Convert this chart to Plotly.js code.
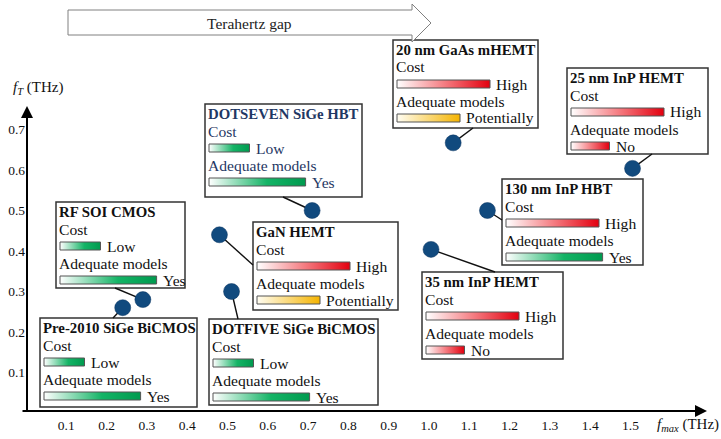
<!DOCTYPE html>
<html>
<head>
<meta charset="utf-8">
<script src="https://cdn.plot.ly/plotly-3.0.1.min.js"></script>
<style>html,body{margin:0;padding:0;background:#fff}#plot{width:721px;height:439px}</style>
</head>
<body>
<div id="plot"></div>
<script>
// devices
var devices = ['Pre-2010 SiGe BiCMOS', 'RF SOI CMOS', 'GaN HEMT', 'DOTFIVE SiGe BiCMOS', 'DOTSEVEN SiGe HBT',
  '20 nm GaAs mHEMT', '35 nm InP HEMT', '130 nm InP HBT', '25 nm InP HEMT'];
var fmax = [0.24, 0.29, 0.48, 0.51, 0.71, 1.06, 1.005, 1.145, 1.505];
var fT = [0.26, 0.28, 0.44, 0.30, 0.50, 0.667, 0.404, 0.50, 0.604];
var cost = ['Low', 'Low', 'High', 'Low', 'Low', 'High', 'High', 'High', 'High'];
var models = ['Yes', 'Yes', 'Potentially', 'Yes', 'Yes', 'Potentially', 'No', 'Yes', 'No'];
var xTicks = [0.1, 0.2, 0.3, 0.4, 0.5, 0.6, 0.7, 0.8, 0.9, 1.0, 1.1, 1.2, 1.3, 1.4, 1.5];
var yTicks = [0.1, 0.2, 0.3, 0.4, 0.5, 0.6, 0.7];

// picture frame (px); margins are 0 so paper = page
var W = 721, H = 439;
var X0 = 26, Y0 = 413, SX = 403, SY = 405;
function dx(px) { return (px - X0) / SX; }
function dy(py) { return (Y0 - py) / SY; }
function px(x) { return x / W; }
function py(y) { return 1 - y / H; }

var SERIF = 'Liberation Serif';
var NAVY = '#114a7e';

// label boxes [left, top, right, bottom] and where the leader line meets them, px
var boxes = [
  [40, 318, 197, 407], [56, 202, 185, 288], [253, 222, 398, 310], [209, 319, 378, 405],
  [205, 104, 362, 197], [393, 40, 538, 128], [422, 272, 563, 359], [502, 179, 643, 265], [567, 68, 708, 154]
];
var anchors = [
  [113, 318], [115, 288], [253, 265], [238, 319], [283, 197], [473, 128], [495, 272], [502, 220], [652, 154]
];

var barLen = {Low: 40.5, High: 93, Yes: 96.6, Potentially: 63, No: 38.5};
var GREEN = [[0, '#ffffff'], [0.6, '#14b466'], [1, '#009a4f']];
var RED = [[0, '#ffffff'], [0.5, '#f57f84'], [1, '#e3000f']];
var YELLOW = [[0, '#fffdf2'], [1, '#f5b400']];
var barScale = {Low: GREEN, Yes: GREEN, High: RED, No: RED, Potentially: YELLOW};

var data = [];
var shapes = [];
var annotations = [];

function gradBar(x, yc, level) {
  var l = dx(x), r = dx(x + barLen[level]), t = dy(yc - 4), b = dy(yc + 4);
  data.push({
    type: 'scatter', mode: 'lines',
    x: [l, r, r, l, l], y: [t, t, b, b, t],
    fill: 'toself', fillcolor: barScale[level][1][1],
    fillgradient: {type: 'horizontal', colorscale: barScale[level], start: l, stop: r},
    line: {color: '#555', width: 1}, hoverinfo: 'skip'
  });
  return x + barLen[level];
}

function txt(x, y, s, size, col, bold) {
  annotations.push({xref: 'paper', yref: 'paper', x: px(x), y: py(y), text: bold ? '<b>' + s + '</b>' : s,
    showarrow: false, xanchor: 'left', yanchor: 'middle', font: {family: SERIF, size: size, color: col}});
}

var BODY = 15.6, HEAD = 14.8;
for (var i = 0; i < devices.length; i++) {
  var bx = boxes[i], L = bx[0], T = bx[1];
  var col = devices[i].indexOf('DOTSEVEN') === 0 ? '#1f3864' : '#111';
  shapes.push({type: 'rect', xref: 'paper', yref: 'paper', layer: 'below',
    x0: px(bx[0]), y0: py(bx[1]), x1: px(bx[2]), y1: py(bx[3]),
    line: {color: '#333', width: 1.5}, fillcolor: '#fff'});
  txt(L + 1, T + 10, devices[i], HEAD, col, true);
  txt(L + 1, T + 27, 'Cost', BODY, col);
  var e1 = gradBar(L + 4, T + 44, cost[i]);
  txt(e1 + 4, T + 44, cost[i], BODY, col);
  txt(L + 1, T + 61.5, 'Adequate models', BODY, col);
  var e2 = gradBar(L + 4, T + 78, models[i]);
  txt(e2 + 4, T + 78, models[i], BODY, col);
}

// leader lines, one per device, then the points on top
for (var j = 0; j < devices.length; j++) {
  data.push({type: 'scatter', mode: 'lines',
    x: [fmax[j], dx(anchors[j][0])], y: [fT[j], dy(anchors[j][1])],
    line: {color: '#111', width: 1.4, simplify: false}, hoverinfo: 'skip'});
}
data.push({
  type: 'scatter', mode: 'markers', x: fmax, y: fT, text: devices,
  marker: {size: 16, color: NAVY, line: {color: '#0a3560', width: 0.5}},
  hoverinfo: 'text'
});

// Terahertz gap arrow
var gap = [[68, 10], [412, 10], [412, 4], [431, 23], [412, 42], [412, 35], [68, 35]];
shapes.push({type: 'path', xref: 'paper', yref: 'paper', layer: 'below',
  path: gap.map(function (p, k) { return (k ? 'L' : 'M') + px(p[0]) + ',' + py(p[1]); }).join(' ') + ' Z',
  line: {color: '#808080', width: 1}, fillcolor: '#fff'});
annotations.push({xref: 'paper', yref: 'paper', x: px(249), y: py(24), yanchor: 'middle', text: 'Terahertz gap',
  showarrow: false, font: {family: SERIF, size: 15.5, color: '#222'}});

// axis arrows
annotations.push({xref: 'paper', yref: 'paper', x: px(707), y: py(411), ax: -686, ay: 0,
  text: '', showarrow: true, arrowhead: 2, arrowsize: 1.2, arrowwidth: 2, arrowcolor: '#000', standoff: 0});
annotations.push({xref: 'paper', yref: 'paper', x: px(27), y: py(106), ax: 0, ay: 306,
  text: '', showarrow: true, arrowhead: 2, arrowsize: 1.2, arrowwidth: 2, arrowcolor: '#000', standoff: 0});
annotations.push({xref: 'paper', yref: 'paper', x: px(11), y: py(88), xanchor: 'left', yanchor: 'middle',
  text: '<i>f</i><sub><i>T</i></sub> (THz)', showarrow: false, font: {family: SERIF, size: 15, color: '#111'}});
annotations.push({xref: 'paper', yref: 'paper', x: px(655), y: py(425), xanchor: 'left', yanchor: 'middle',
  text: '<i>f</i><sub><i>max</i></sub> (THz)', showarrow: false, font: {family: SERIF, size: 15, color: '#111'}});

var layout = {
  width: W, height: H, margin: {l: 0, r: 0, t: 0, b: 0},
  paper_bgcolor: '#fff', plot_bgcolor: 'rgba(0,0,0,0)', showlegend: false,
  font: {family: SERIF, size: 15.5, color: '#111'},
  xaxis: {domain: [X0 / W, 1], range: [0, (W - X0) / SX], tickvals: xTicks, tickformat: '.1f',
    ticks: '', showgrid: false, zeroline: false, showline: false, ticklabelstandoff: 2,
    tickfont: {family: SERIF, size: 13.5, color: '#111'}, fixedrange: true},
  yaxis: {domain: [(H - Y0) / H, 1], range: [0, Y0 / SY], tickvals: yTicks, tickformat: '.1f',
    ticks: '', showgrid: false, zeroline: false, showline: false,
    tickfont: {family: SERIF, size: 13.5, color: '#111'}, fixedrange: true},
  shapes: shapes,
  annotations: annotations
};

Plotly.newPlot('plot', data, layout, {displayModeBar: false, staticPlot: true});
</script>
</body>
</html>
